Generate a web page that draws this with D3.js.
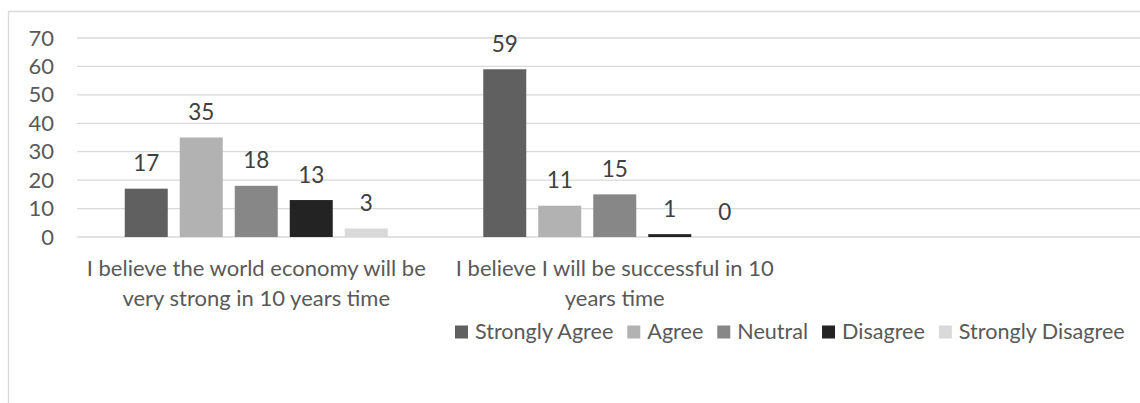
<!DOCTYPE html>
<html>
<head>
<meta charset="utf-8">
<script src="https://cdn.jsdelivr.net/npm/d3@7"></script>
<style>
  html, body { margin: 0; padding: 0; background: #fff; }
  svg { display: block; }
  text { font-family: Lato, "Open Sans", sans-serif; }
</style>
</head>
<body>
<svg id="chart" width="1140" height="403"></svg>
<script>
// ---- data ----
const categories = [
  "I believe the world economy will be very strong in 10 years time",
  "I believe I will be successful in 10 years time"
];
const categoryLines = [
  ["I believe the world economy will be", "very strong in 10 years time"],
  ["I believe I will be successful in 10", "years time"]
];
const series = ["Strongly Agree", "Agree", "Neutral", "Disagree", "Strongly Disagree"];
const stronglyAgree    = [17, 59];
const agree            = [35, 11];
const neutral          = [18, 15];
const disagree         = [13, 1];
const stronglyDisagree = [3, 0];
const yTicks = [0, 10, 20, 30, 40, 50, 60, 70];

const seriesValues = [stronglyAgree, agree, neutral, disagree, stronglyDisagree];
const colors = ["#606060", "#b2b2b2", "#878787", "#232323", "#d9d9d9"];

const svg = d3.select("#chart");
const W = 1140, H = 403;

function measure(str, size) {
  const p = svg.append("text").attr("font-size", size).text(str);
  const w = p.node().getComputedTextLength();
  p.remove();
  return w;
}
// font size fit to match reference text width
const fs = Math.min(22, 100 * 344 / measure("I believe the world economy will be", 100));
// legend font size fit so the legend spans 455 -> 1125
const legTextW100 = series.reduce((a, s) => a + measure(s, 100), 0);
const legFixed = series.length * 20 + (series.length - 1) * 14;
const lfs = Math.min(fs, 100 * (670 - legFixed) / legTextW100);

// chart frame
svg.append("path")
  .attr("d", `M8.5,${H + 5} V11.5 H${W + 5}`)
  .attr("fill", "none").attr("stroke", "#d9d9d9").attr("stroke-width", 1.3);

const plotLeft = 77, step = 358.5;
const y = d3.scaleLinear().domain([0, 70]).range([237, 38]);
const x0 = d3.scaleBand().domain(categories).range([plotLeft, plotLeft + step * categories.length]);
const groupW = 263;
const x1 = d3.scaleBand().domain(series).range([0, groupW]).paddingInner(0.218).paddingOuter(0);
const groupOffset = (step - groupW) / 2;

// gridlines
svg.append("g").selectAll("line").data(yTicks).join("line")
  .attr("x1", plotLeft).attr("x2", W)
  .attr("y1", d => y(d)).attr("y2", d => y(d))
  .attr("stroke", "#d9d9d9").attr("stroke-width", 1.3);

// y axis labels
const yAxis = d3.axisLeft(y).tickValues(yTicks).tickSize(0).tickPadding(0);
const yg = svg.append("g").attr("transform", "translate(54,0)").call(yAxis);
yg.select(".domain").remove();
yg.selectAll("text").attr("font-size", fs).attr("fill", "#595959")
  .attr("font-family", "Lato, 'Open Sans', sans-serif");

// bars
const groups = svg.append("g").selectAll("g").data(categories).join("g")
  .attr("transform", d => `translate(${x0(d) + groupOffset},0)`);

groups.each(function(cat, ci) {
  const g = d3.select(this);
  const vals = series.map((s, si) => ({ s, si, v: seriesValues[si][ci] }));
  g.selectAll("rect").data(vals).join("rect")
    .attr("x", d => x1(d.s))
    .attr("width", x1.bandwidth())
    .attr("y", d => y(d.v))
    .attr("height", d => y(0) - y(d.v))
    .attr("fill", d => colors[d.si]);
  g.selectAll("text").data(vals).join("text")
    .attr("x", d => x1(d.s) + x1.bandwidth() / 2)
    .attr("y", d => y(d.v) - 17.5)
    .attr("text-anchor", "middle")
    .attr("font-size", fs + 0.5)
    .attr("fill", "#404040")
    .text(d => d.v);
});

// category labels
categories.forEach((c, ci) => {
  const cx = x0(c) + step / 2;
  const t = svg.append("text")
    .attr("text-anchor", "middle")
    .attr("font-size", fs)
    .attr("fill", "#595959");
  categoryLines[ci].forEach((line, li) => {
    t.append("tspan").attr("x", cx).attr("y", 276 + li * 29.5).text(line);
  });
});

// legend
const legend = svg.append("g").attr("transform", "translate(455,0)");
let lx = 0;
series.forEach((s, si) => {
  legend.append("rect").attr("x", lx).attr("y", 325.5).attr("width", 13).attr("height", 13)
    .attr("fill", colors[si]);
  const t = legend.append("text").attr("x", lx + 20).attr("y", 339)
    .attr("font-size", lfs).attr("fill", "#595959").text(s);
  lx += 20 + t.node().getComputedTextLength() + 14;
});
</script>
</body>
</html>
